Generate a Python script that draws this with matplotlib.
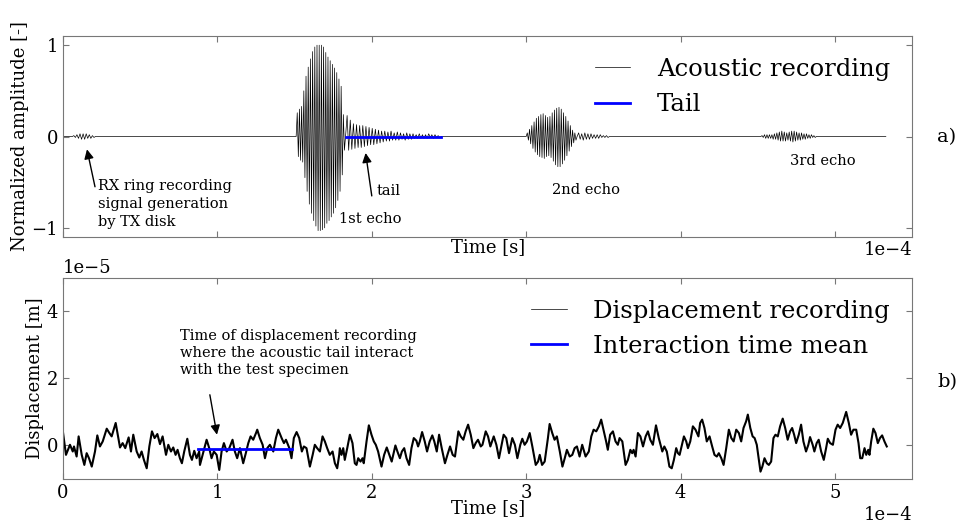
"""
Acoustic recording (a) and displacement recording (b) of the tail test.
Times are kept in units of 1e-4 s, displacement in 1e-5 m.
"""

import numpy as np
import matplotlib
matplotlib.use("Agg")
import matplotlib.pyplot as plt
from matplotlib.lines import Line2D

plt.rcParams["font.family"] = ["DejaVu Serif", "DejaVu Sans"]
plt.rcParams["font.size"] = 13

# ── acoustic recording: per-cycle upper / lower peaks of each burst ──
ring_span = (0.06, 0.21)
ring_up = [0.01, 0.02, 0.03, 0.03, 0.03, 0.02, 0.01]
ring_lo = [-0.01, -0.02, -0.03, -0.03, -0.02, -0.02, -0.01]

echo1_span = (1.51, 1.83)
echo1_up = [0.26, 0.30, 0.33, 0.50, 0.66, 0.76, 0.85, 0.93, 0.98, 1.00, 1.00,
            1.00, 0.98, 0.92, 0.87, 0.83, 0.79, 0.75, 0.70, 0.63, 0.55, 0.24]
echo1_lo = [-0.22, -0.26, -0.28, -0.45, -0.60, -0.74, -0.84, -0.92, -0.98, -1.03, -1.03,
            -1.02, -1.00, -0.95, -0.92, -0.88, -0.84, -0.78, -0.70, -0.60, -0.42, -0.15]

tail_span = (1.83, 2.45)
tail_up = [0.23, 0.18, 0.14, 0.13, 0.12, 0.12, 0.11, 0.10, 0.09, 0.08,
           0.07, 0.06, 0.06, 0.05, 0.06, 0.04, 0.05, 0.04, 0.03, 0.04,
           0.03, 0.03, 0.02, 0.03, 0.02, 0.02, 0.03, 0.02, 0.02, 0.01]
tail_lo = [-0.15, -0.14, -0.13, -0.12, -0.12, -0.11, -0.10, -0.09, -0.09, -0.08,
           -0.07, -0.06, -0.05, -0.05, -0.04, -0.04, -0.04, -0.03, -0.04, -0.03,
           -0.03, -0.02, -0.02, -0.02, -0.02, -0.02, -0.01, -0.02, -0.01, -0.01]

echo2_span = (3.00, 3.33)
echo2_up = [0.04, 0.08, 0.12, 0.16, 0.20, 0.22, 0.24, 0.25, 0.23, 0.21, 0.22,
            0.26, 0.29, 0.31, 0.32, 0.30, 0.26, 0.22, 0.17, 0.12, 0.07, 0.04]
echo2_lo = [-0.04, -0.08, -0.13, -0.17, -0.20, -0.22, -0.23, -0.24, -0.22, -0.21, -0.23,
            -0.27, -0.31, -0.33, -0.33, -0.30, -0.26, -0.21, -0.16, -0.11, -0.07, -0.04]

echo2_tail_span = (3.33, 3.54)
echo2_tail_up = [0.04, 0.03, 0.04, 0.03, 0.03, 0.02, 0.02, 0.02, 0.01, 0.01]
echo2_tail_lo = [-0.03, -0.04, -0.03, -0.03, -0.02, -0.02, -0.02, -0.01, -0.01, -0.01]

echo3_span = (4.52, 4.88)
echo3_up = [0.01, 0.02, 0.02, 0.02, 0.02, 0.03, 0.04, 0.05, 0.06, 0.05, 0.04,
            0.05, 0.06, 0.06, 0.05, 0.04, 0.04, 0.03, 0.03, 0.02, 0.02, 0.01]
echo3_lo = [-0.01, -0.02, -0.02, -0.02, -0.03, -0.03, -0.04, -0.05, -0.05, -0.05, -0.04,
            -0.05, -0.06, -0.05, -0.04, -0.04, -0.03, -0.03, -0.02, -0.02, -0.01, -0.01]

acoustic_end = 5.33
tail_mark = (1.83, 2.45)  # blue "Tail" segment, amplitude 0

# ── displacement recording (t in 1e-4 s, value in 1e-5 m) ──
disp_t = [
    0.000, 0.019, 0.045, 0.063, 0.071, 0.088, 0.101, 0.121, 0.138, 0.153,
    0.168, 0.186, 0.207, 0.222, 0.239, 0.257, 0.283, 0.300, 0.315, 0.326,
    0.341, 0.358, 0.369, 0.386, 0.403, 0.425, 0.440, 0.455, 0.477, 0.494,
    0.509, 0.524, 0.542, 0.559, 0.576, 0.593, 0.611, 0.628, 0.645, 0.667,
    0.682, 0.699, 0.714, 0.729, 0.742, 0.757, 0.770, 0.785, 0.805, 0.822,
    0.835, 0.850, 0.865, 0.882, 0.887, 0.904, 0.930, 0.947, 0.962, 0.977,
    0.995, 1.012, 1.027, 1.042, 1.060, 1.077, 1.098, 1.113, 1.128, 1.146,
    1.167, 1.184, 1.200, 1.215, 1.232, 1.250, 1.258, 1.275, 1.293, 1.308,
    1.323, 1.340, 1.362, 1.379, 1.394, 1.416, 1.431, 1.444, 1.466, 1.480,
    1.495, 1.513, 1.530, 1.547, 1.560, 1.577, 1.599, 1.617, 1.631, 1.646,
    1.664, 1.681, 1.696, 1.711, 1.728, 1.746, 1.761, 1.776, 1.789, 1.793,
    1.804, 1.815, 1.825, 1.841, 1.858, 1.875, 1.890, 1.901, 1.912, 1.927,
    1.940, 1.948, 1.966, 1.981, 1.998, 2.013, 2.026, 2.041, 2.063, 2.080,
    2.097, 2.114, 2.129, 2.153, 2.166, 2.182, 2.195, 2.210, 2.225, 2.242,
    2.257, 2.272, 2.289, 2.300, 2.311, 2.326, 2.343, 2.358, 2.375, 2.392,
    2.405, 2.421, 2.436, 2.453, 2.474, 2.490, 2.507, 2.524, 2.539, 2.561,
    2.576, 2.593, 2.608, 2.624, 2.641, 2.658, 2.673, 2.688, 2.706, 2.717,
    2.738, 2.753, 2.768, 2.790, 2.807, 2.824, 2.839, 2.854, 2.871, 2.889,
    2.910, 2.927, 2.943, 2.962, 2.975, 2.990, 3.005, 3.023, 3.040, 3.062,
    3.077, 3.088, 3.103, 3.120, 3.141, 3.152, 3.169, 3.184, 3.199, 3.218,
    3.235, 3.250, 3.264, 3.282, 3.299, 3.314, 3.329, 3.346, 3.363, 3.385,
    3.406, 3.422, 3.437, 3.454, 3.471, 3.486, 3.501, 3.518, 3.529, 3.544,
    3.562, 3.579, 3.594, 3.605, 3.623, 3.644, 3.659, 3.675, 3.687, 3.696,
    3.709, 3.724, 3.740, 3.757, 3.774, 3.789, 3.804, 3.821, 3.841, 3.859,
    3.882, 3.895, 3.911, 3.928, 3.943, 3.957, 3.972, 3.983, 3.994, 4.022,
    4.037, 4.048, 4.063, 4.080, 4.097, 4.116, 4.127, 4.140, 4.155, 4.170,
    4.188, 4.205, 4.220, 4.235, 4.248, 4.264, 4.279, 4.296, 4.313, 4.329,
    4.344, 4.361, 4.378, 4.393, 4.408, 4.425, 4.436, 4.452, 4.467, 4.480,
    4.494, 4.513, 4.518, 4.530, 4.544, 4.559, 4.572, 4.587, 4.602, 4.615,
    4.630, 4.645, 4.662, 4.678, 4.694, 4.710, 4.723, 4.736, 4.749, 4.766,
    4.781, 4.796, 4.813, 4.828, 4.839, 4.856, 4.867, 4.882, 4.895, 4.911,
    4.928, 4.943, 4.954, 4.969, 4.987, 5.004, 5.018, 5.034, 5.051, 5.073,
    5.090, 5.105, 5.120, 5.138, 5.153, 5.164, 5.177, 5.192, 5.203, 5.216,
    5.224, 5.235, 5.249, 5.263, 5.278, 5.292, 5.306, 5.321, 5.336,
]
disp_v = [
    0.38, -0.28, 0.02, -0.18, -0.03, -0.33, 0.27, -0.28, -0.58, -0.23,
    -0.38, -0.63, -0.18, 0.30, -0.03, 0.12, 0.50, 0.37, 0.27, 0.44,
    0.67, 0.22, -0.06, 0.07, -0.08, 0.24, -0.18, 0.32, -0.18, -0.36,
    -0.18, -0.43, -0.68, -0.03, 0.42, 0.22, 0.34, 0.04, 0.27, -0.28,
    0.02, -0.18, -0.06, -0.28, -0.13, -0.38, -0.53, -0.18, 0.20, -0.28,
    -0.43, -0.16, -0.38, -0.18, -0.58, -0.28, 0.17, -0.08, -0.38, -0.18,
    -0.28, -0.73, -0.18, 0.07, -0.18, -0.08, 0.17, -0.18, -0.38, -0.08,
    -0.53, -0.23, 0.07, 0.27, 0.17, 0.37, 0.47, 0.22, 0.02, -0.38,
    -0.08, 0.02, -0.18, 0.22, 0.47, 0.22, 0.07, 0.17, -0.08, -0.38,
    0.22, 0.40, 0.22, -0.18, -0.03, -0.08, -0.63, -0.28, 0.02, -0.08,
    -0.18, 0.27, 0.12, -0.08, -0.28, -0.18, -0.53, -0.68, -0.28, -0.08,
    -0.28, -0.08, -0.43, -0.08, 0.32, 0.07, -0.53, -0.58, -0.38, -0.48,
    -0.38, -0.53, 0.12, 0.60, 0.32, 0.12, 0.02, -0.18, -0.63, -0.28,
    -0.06, -0.28, -0.48, 0.00, -0.18, -0.38, -0.18, -0.08, -0.38, -0.58,
    -0.08, 0.22, 0.14, -0.03, 0.12, 0.40, 0.12, -0.18, 0.12, 0.30,
    0.12, -0.18, 0.32, -0.08, -0.53, -0.28, -0.03, -0.28, -0.33, 0.42,
    0.27, 0.17, 0.42, 0.62, 0.32, -0.08, 0.07, 0.17, -0.03, 0.02,
    0.42, 0.27, -0.03, 0.27, 0.02, -0.38, -0.03, 0.32, 0.22, -0.23,
    0.22, 0.02, -0.38, 0.02, 0.20, 0.02, 0.12, 0.37, -0.03, -0.58,
    -0.48, -0.28, -0.58, -0.48, 0.22, 0.64, 0.37, 0.17, 0.27, -0.18,
    -0.63, -0.38, -0.13, -0.33, -0.28, -0.08, -0.03, -0.33, 0.02, -0.33,
    -0.18, 0.27, 0.47, 0.42, 0.57, 0.77, 0.47, 0.12, -0.13, 0.32,
    0.42, 0.12, 0.02, 0.22, 0.12, -0.58, -0.43, -0.13, -0.23, -0.13,
    -0.33, 0.37, 0.27, -0.03, 0.27, 0.42, 0.17, 0.02, 0.60, 0.22,
    -0.18, -0.03, -0.18, -0.63, -0.68, -0.43, -0.08, -0.23, -0.28, 0.27,
    0.12, -0.08, 0.12, 0.57, 0.47, 0.27, 0.67, 0.77, 0.52, 0.12,
    0.27, -0.03, -0.28, -0.33, -0.23, -0.38, -0.58, -0.08, 0.47, 0.22,
    0.12, 0.47, 0.37, 0.12, 0.52, 0.72, 0.92, 0.52, 0.27, 0.22,
    0.02, -0.63, -0.78, -0.63, -0.38, -0.53, -0.58, -0.48, 0.22, 0.32,
    0.27, 0.57, 0.80, 0.52, 0.17, 0.42, 0.52, 0.32, 0.07, 0.32,
    0.62, 0.12, -0.18, 0.02, 0.25, 0.02, -0.18, 0.07, 0.17, -0.18,
    -0.43, -0.08, 0.20, 0.07, 0.02, 0.47, 0.62, 0.52, 0.67, 1.00,
    0.67, 0.32, 0.47, 0.47, 0.07, -0.38, -0.38, -0.08, -0.28, -0.13,
    -0.28, 0.12, 0.50, 0.37, 0.07, 0.22, 0.30, 0.12, -0.03,
]
mean_span = (0.876, 1.48)
mean_value = -0.12

time_ticks = [0, 1, 2, 3, 4, 5]


def burst(span, up, lo):
    """Interleave upper/lower peaks of one burst and spread them over its span."""
    vals = np.concatenate([[0.0], np.column_stack([up, lo]).ravel(), [0.0]])
    return np.linspace(span[0], span[1], len(vals)), vals


bursts = [
    burst(ring_span, ring_up, ring_lo),
    burst(echo1_span, echo1_up, echo1_lo),
    burst(tail_span, tail_up, tail_lo),
    burst(echo2_span, echo2_up, echo2_lo),
    burst(echo2_tail_span, echo2_tail_up, echo2_tail_lo),
    burst(echo3_span, echo3_up, echo3_lo),
]
acoustic_t = np.concatenate([[0.0]] + [b[0] for b in bursts] + [[acoustic_end]]) * 1e-4
acoustic_a = np.concatenate([[0.0]] + [b[1] for b in bursts] + [[0.0]])

fig = plt.figure(figsize=(9.61, 5.23), dpi=100)
ax1 = fig.add_axes([0.0656, 0.5468, 0.8835, 0.3843])
ax2 = fig.add_axes([0.0656, 0.0841, 0.8835, 0.3850])

# ── a) acoustic recording ──
ax1.plot(acoustic_t, acoustic_a, color="k", lw=0.5)
ax1.plot(np.array(tail_mark) * 1e-4, [0, 0], color="blue", lw=2)
ax1.set_xlim(0, 5.5e-4)
ax1.set_ylim(-1.1, 1.1)
ax1.set_yticks([-1, 0, 1])
ax1.set_xticks(np.array(time_ticks) * 1e-4)
ax1.tick_params(labelbottom=False)
ax1.set_xlabel("Time [s]", fontsize=13, labelpad=1)
ax1.set_ylabel("Normalized amplitude [-]", fontsize=13, labelpad=2)
# x tick labels are hidden on this panel, keep the shared scale note
ax1.text(1.0, -0.02, "1e\u22124", transform=ax1.transAxes,
         ha="right", va="top", fontsize=13)

arrow = dict(arrowstyle="-|>", color="k", lw=1, mutation_scale=14,
             shrinkA=0, shrinkB=0)
ax1.annotate("", xy=(0.155e-4, -0.14), xytext=(0.207e-4, -0.55), arrowprops=arrow)
ax1.text(0.227e-4, -0.47, "RX ring recording\nsignal generation\nby TX disk",
         fontsize=10.5, va="top", ha="left", linespacing=1.35)
ax1.annotate("", xy=(1.96e-4, -0.18), xytext=(2.0e-4, -0.65), arrowprops=arrow)
ax1.text(2.03e-4, -0.60, "tail", fontsize=10.5, va="center")
ax1.text(1.79e-4, -0.90, "1st echo", fontsize=10.5, va="center")
ax1.text(3.17e-4, -0.59, "2nd echo", fontsize=10.5, va="center")
ax1.text(4.71e-4, -0.27, "3rd echo", fontsize=10.5, va="center")

handles1 = [Line2D([], [], color="k", lw=0.5), Line2D([], [], color="blue", lw=2)]
ax1.legend(handles1, ["Acoustic recording", "Tail"], loc="upper right",
           frameon=False, fontsize=17.5, handlelength=1.45, handletextpad=1.1)

# ── b) displacement recording ──
ax2.plot(np.array(disp_t) * 1e-4, np.array(disp_v) * 1e-5, color="k", lw=1.5)
ax2.plot(np.array(mean_span) * 1e-4, [mean_value * 1e-5] * 2, color="blue", lw=2)
ax2.set_xlim(0, 5.5e-4)
ax2.set_ylim(-1e-5, 5e-5)
ax2.set_yticks([0, 2e-5, 4e-5])
ax2.set_xticks(np.array(time_ticks) * 1e-4)
ax2.set_xlabel("Time [s]", fontsize=13, labelpad=-2)
ax2.set_ylabel("Displacement [m]", fontsize=13, labelpad=2)

ax2.annotate("", xy=(0.997e-4, 0.32e-5), xytext=(0.951e-4, 1.51e-5), arrowprops=arrow)
ax2.text(0.757e-4, 3.48e-5,
         "Time of displacement recording\nwhere the acoustic tail interact\nwith the test specimen",
         fontsize=10.5, va="top", ha="left", linespacing=1.3)

handles2 = [Line2D([], [], color="k", lw=0.5), Line2D([], [], color="blue", lw=2)]
ax2.legend(handles2, ["Displacement recording", "Interaction time mean"],
           loc="upper right", frameon=False, fontsize=17.5,
           handlelength=1.45, handletextpad=1.1)

for ax in (ax1, ax2):
    ax.ticklabel_format(axis="x", style="sci", scilimits=(0, 0))
    ax.tick_params(direction="in", top=True, right=True, length=4,
                   color="#777777", labelsize=13)
    for s in ax.spines.values():
        s.set_color("#777777")
ax2.ticklabel_format(axis="y", style="sci", scilimits=(0, 0))

fig.text(0.975, 0.738, "a)", fontsize=14, va="center")
fig.text(0.975, 0.270, "b)", fontsize=14, va="center")

fig.savefig("out.png", dpi=100)
